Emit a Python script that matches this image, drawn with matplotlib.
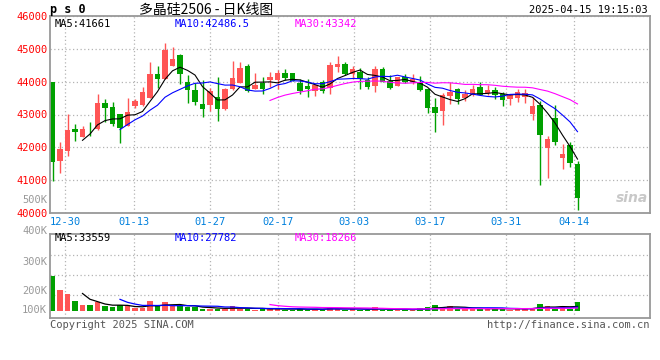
import matplotlib.pyplot as plt
import pandas as pd

# daily bars, 12-26 .. 04-15 (71 sessions)
opens = [44000, 41590, 41900, 42560, 42300, 42540, 42560, 43340, 43220, 43000,
         42650, 43260, 43300, 43500, 44240, 44070, 44490, 44800, 44000, 43750,
         43320, 43290, 43520, 43170, 43780, 43960, 44470, 43790, 43960, 44060,
         44060, 44260, 44260, 43960, 43870, 43710, 43980, 43810, 44460, 44540,
         44240, 44290, 44060, 43880, 44390, 44030, 43880, 44150, 43980, 43980,
         43780, 43220, 43120, 43570, 43770, 43500, 43590, 43850, 43660, 43750,
         43620, 43470, 43490, 43540, 43010, 43290, 41970, 42890, 41670, 42070, 41490]
closes = [41560, 41950, 42540, 42460, 42560, 42520, 43340, 43190, 42710, 42580,
          43080, 43400, 43690, 44240, 44080, 44950, 44690, 44240, 43760, 43370,
          43180, 43720, 43180, 43780, 44110, 44420, 43710, 43900, 43790, 44150,
          44270, 44110, 44030, 43710, 43790, 43910, 43720, 44520, 44540, 44240,
          44390, 44080, 43850, 44390, 44000, 43820, 44130, 44000, 44080, 43750,
          43200, 43050, 43590, 43680, 43470, 43620, 43780, 43600, 43750, 43600,
          43440, 43590, 43680, 43660, 43250, 42380, 42250, 42170, 41810, 41520, 40460]
highs = [44000, 42160, 43030, 42720, 42660, 42780, 43610, 43470, 43380, 43000,
         43490, 43480, 43850, 44610, 44470, 45180, 45050, 44850, 44190, 43950,
         44060, 43810, 44150, 43820, 44630, 44610, 44540, 44260, 44130, 44290,
         44370, 44380, 44260, 44070, 44070, 43920, 44060, 44590, 44780, 44590,
         44490, 44420, 44130, 44470, 44440, 44200, 44150, 44240, 44240, 44170,
         43780, 43500, 43660, 43980, 43810, 43750, 43910, 43980, 43890, 43850,
         43700, 43620, 43780, 43780, 43520, 43400, 42350, 43290, 42100, 42170, 41590]
lows = [40970, 41210, 41750, 42200, 42300, 42350, 42540, 42780, 42650, 42140,
        42650, 43200, 43270, 43500, 43810, 44070, 44490, 43930, 43340, 43300,
        42930, 43100, 42810, 43140, 43740, 43960, 43690, 43790, 43620, 43830,
        43780, 44060, 44010, 43620, 43540, 43570, 43650, 43620, 44290, 44200,
        44080, 43790, 43780, 43700, 43980, 43780, 43860, 43950, 43930, 43710,
        43050, 42470, 42690, 43320, 43320, 43400, 43560, 43580, 43600, 43470,
        43270, 43300, 43370, 43340, 42830, 40850, 41060, 42080, 41330, 41400, 40080]
volumes = [253000, 151000, 122000, 71000, 42000, 42000, 66000, 34000, 29000, 42000,
           34000, 24000, 24000, 71000, 34000, 64000, 34000, 34000, 29000, 29000,
           17000, 17000, 17000, 17000, 34000, 17000, 17000, 10000, 17000, 17000,
           17000, 10000, 10000, 17000, 10000, 17000, 10000, 27000, 17000, 10000,
           17000, 10000, 10000, 27000, 10000, 10000, 10000, 10000, 10000, 20000,
           27000, 42000, 27000, 34000, 17000, 17000, 17000, 17000, 17000, 17000,
           20000, 10000, 17000, 17000, 24000, 52000, 34000, 17000, 34000, 17000, 64000]

tick_idx = [2, 11, 21, 30, 40, 50, 60, 69]
tick_labels = ['12-30', '01-13', '01-27', '02-17', '03-03', '03-17', '03-31', '04-14']
price_ticks = [40000, 41000, 42000, 43000, 44000, 45000, 46000]

RED = '#ff5555'
GREEN = '#00a000'
GRID = '#b4b4b4'
MONO = 'DejaVu Sans Mono'

W, H = 660, 360
def fx(x):
    return x / W
def fy(y):
    return 1 - y / H

df = pd.DataFrame({'o': opens, 'h': highs, 'l': lows, 'c': closes, 'v': volumes})
n = len(df)
xs = list(range(n))
up = df['c'] >= df['o']
colors = [RED if u else GREEN for u in up]

fig = plt.figure(figsize=(6.6, 3.6), dpi=100)
ax = fig.add_axes([fx(50), fy(213), fx(600), 197 / H])
axv = fig.add_axes([fx(50), fy(318), fx(600), 84 / H])

# sina's date grid drifts a little against the bar slots
grid_x = [i * 1.0128 - 0.32 for i in tick_idx]

for a in (ax, axv):
    a.set_xlim(-1 / 3, 79 + 2 / 3)
    for s in a.spines.values():
        s.set_color('#999999')
        s.set_linewidth(1.3)
    a.tick_params(length=0)
    a.set_xticks(grid_x)
    a.grid(True, color=GRID, linestyle=(0, (1, 2)), linewidth=0.9)
    a.set_axisbelow(True)

# ---- candles
ax.vlines(xs, df['l'], df['h'], colors=colors, linewidth=1)
body = (df['c'] - df['o']).abs().clip(lower=15)
ax.bar(xs, body, bottom=df[['o', 'c']].min(axis=1), width=0.76, color=colors, linewidth=0)

ax.plot(xs, df['c'].rolling(5).mean(), color='black', lw=0.8)
ax.plot(xs, df['c'].rolling(10).mean(), color='#0000ff', lw=0.8)
ax.plot(xs, df['c'].rolling(30).mean(), color='#ff00ff', lw=0.8)

ax.set_ylim(40000, 46000)
ax.set_yticks(price_ticks)
ax.set_yticklabels([str(p) for p in price_ticks], color='red', fontfamily=MONO, fontsize=7.5)
ax.tick_params(axis='y', pad=2)
ax.set_xticklabels(tick_labels, color='#0080dd', fontfamily=MONO, fontsize=7.5)
ax.tick_params(axis='x', pad=3)

# ---- volume
axv.bar(xs, df['v'], width=0.76, color=colors, linewidth=0)
axv.plot(xs, df['v'].rolling(5).mean(), color='black', lw=0.9)
axv.plot(xs, df['v'].rolling(10).mean(), color='#0000ff', lw=0.9)
axv.plot(xs, df['v'].rolling(30).mean(), color='#ff00ff', lw=0.9)
axv.set_ylim(-51100, 562100)
axv.set_yticks([116800, 262800, 408800])
axv.set_yticklabels([])
axv.set_xticklabels([])

# volume axis labels (sina puts them at odd spots)
for lab, y in [('500K', 200), ('400K', 231), ('300K', 262), ('200K', 291), ('100K', 310)]:
    fig.text(fx(47), fy(y), lab, ha='right', va='center', color='#999999',
             fontfamily=MONO, fontsize=7.5)

# ---- header / legends
fig.text(fx(50), fy(10), 'p s 0', ha='left', va='center', fontfamily=MONO,
         fontsize=8.5, fontweight='bold')
fig.text(fx(206), fy(10), '多晶硅2506 - 日K线图', ha='center', va='center',
         family=['Noto Sans CJK SC', 'DejaVu Sans'], fontsize=10)
fig.text(fx(648), fy(10), '2025-04-15 19:15:03', ha='right', va='center',
         fontfamily=MONO, fontsize=7.5)

fig.text(fx(55), fy(24), 'MA5:41661', color='black', va='center', fontfamily=MONO, fontsize=7.5)
fig.text(fx(175), fy(24), 'MA10:42486.5', color='#0000ff', va='center', fontfamily=MONO, fontsize=7.5)
fig.text(fx(295), fy(24), 'MA30:43342', color='#ff00ff', va='center', fontfamily=MONO, fontsize=7.5)

fig.text(fx(55), fy(238), 'MA5:33559', color='black', va='center', fontfamily=MONO, fontsize=7.5)
fig.text(fx(175), fy(238), 'MA10:27782', color='#0000ff', va='center', fontfamily=MONO, fontsize=7.5)
fig.text(fx(295), fy(238), 'MA30:18266', color='#ff00ff', va='center', fontfamily=MONO, fontsize=7.5)

fig.text(fx(50), fy(325), 'Copyright 2025 SINA.COM', color='#555555', va='center',
         fontfamily=MONO, fontsize=7.5)
fig.text(fx(649), fy(325), 'http://finance.sina.com.cn', color='#555555', ha='right',
         va='center', fontfamily=MONO, fontsize=7.5)
fig.text(fx(632), fy(198), 'sina', color='#bbbbbb', ha='center', va='center',
         fontsize=10, fontweight='bold', style='italic', alpha=0.8)

fig.savefig('out.png', dpi=100)
